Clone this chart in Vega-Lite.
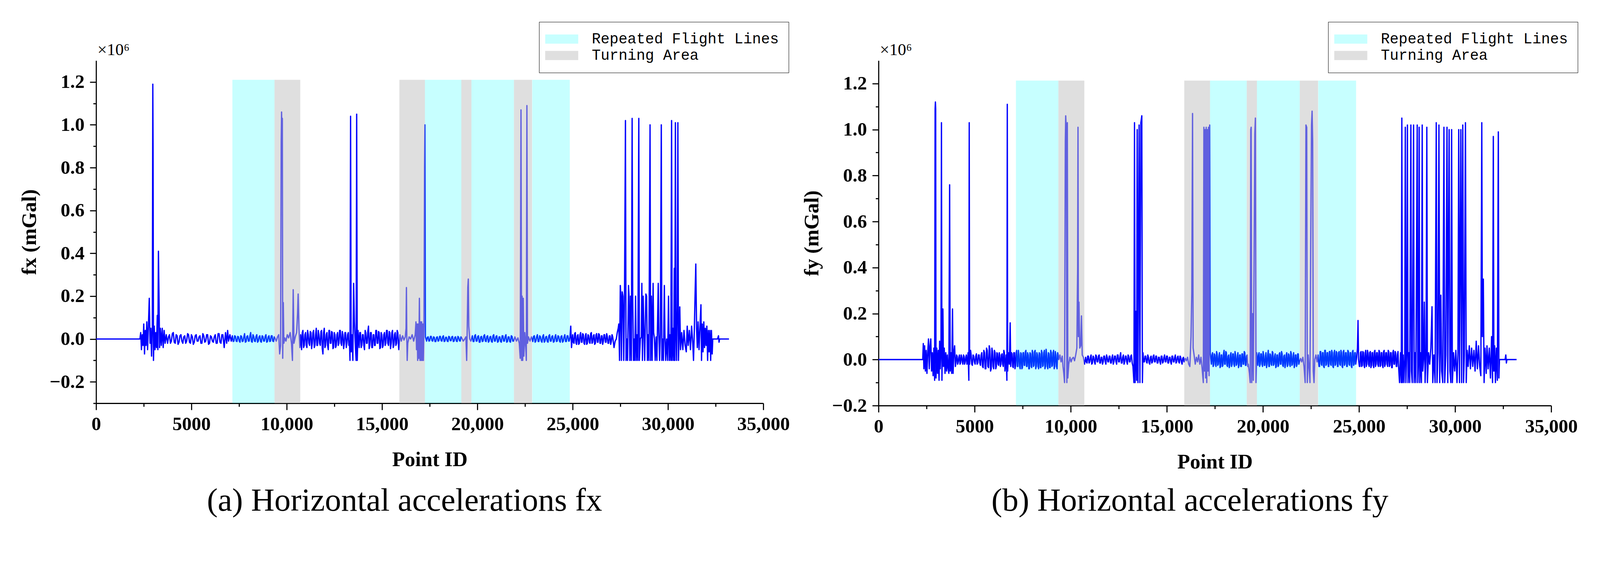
{
  "$schema": "https://vega.github.io/schema/vega-lite/v6.json",
  "background": "white",
  "padding": {"left": 49, "top": 55, "right": 0, "bottom": 0},
  "datasets": {
    "bands": [
      {"type": "Repeated Flight Lines", "start": 7150, "end": 9360},
      {"type": "Turning Area", "start": 9360, "end": 10710},
      {"type": "Turning Area", "start": 15910, "end": 17250},
      {"type": "Repeated Flight Lines", "start": 17250, "end": 19160},
      {"type": "Turning Area", "start": 19160, "end": 19690},
      {"type": "Repeated Flight Lines", "start": 19690, "end": 21920},
      {"type": "Turning Area", "start": 21920, "end": 22870},
      {"type": "Repeated Flight Lines", "start": 22880, "end": 24850}
    ],
    "fx": [
      {"p":0,"v":0},{"p":2300,"v":0},{"p":2340,"v":0.03},{"p":2380,"v":-0.05},{"p":2420,"v":0.02},{"p":2460,"v":-0.03},{"p":2500,"v":0.07},{"p":2540,"v":-0.07},{"p":2580,"v":0.04},{"p":2620,"v":-0.03},{"p":2660,"v":0.08},{"p":2700,"v":-0.05},{"p":2740,"v":0.05},{"p":2790,"v":0.19},{"p":2830,"v":-0.02},{"p":2870,"v":0.05},{"p":2910,"v":-0.08},{"p":2950,"v":0.06},{"p":2975,"v":1.19},{"p":2990,"v":0.9},{"p":3010,"v":-0.1},{"p":3050,"v":0.06},{"p":3090,"v":-0.05},{"p":3130,"v":0.03},{"p":3170,"v":-0.04},{"p":3210,"v":0.11},{"p":3240,"v":-0.05},{"p":3270,"v":0.41},{"p":3300,"v":0.2},{"p":3330,"v":-0.04},{"p":3370,"v":0.05},{"p":3420,"v":-0.03},{"p":3470,"v":0.05},{"p":3520,"v":-0.04},{"p":3570,"v":0.04},{"p":3620,"v":-0.02},{"p":3680,"v":0.02},
      {"p":3750,"v":-0.02},{"p":3850,"v":0.02},{"p":3950,"v":-0.01},{"p":4050,"v":0.03},{"p":4150,"v":-0.02},{"p":4250,"v":0.015},{"p":4350,"v":-0.015},{"p":4450,"v":0.02},{"p":4550,"v":-0.02},{"p":4650,"v":0.015},{"p":4750,"v":-0.01},{"p":4850,"v":0.02},{"p":4950,"v":-0.02},{"p":5050,"v":0.01},{"p":5150,"v":-0.015},{"p":5250,"v":0.02},{"p":5350,"v":-0.01},{"p":5450,"v":0.015},{"p":5550,"v":-0.02},{"p":5650,"v":0.015},{"p":5750,"v":-0.01},{"p":5850,"v":0.02},{"p":5950,"v":-0.02},{"p":6050,"v":0.01},{"p":6150,"v":-0.015},{"p":6250,"v":0.02},{"p":6350,"v":-0.02},{"p":6450,"v":0.025},{"p":6550,"v":-0.02},{"p":6650,"v":0.02},{"p":6720,"v":-0.04},{"p":6790,"v":0.03},{"p":6850,"v":-0.02},{"p":6900,"v":0.04},{"p":6950,"v":-0.01},{"p":7020,"v":0.02},{"p":7090,"v":-0.01},{"p":7150,"v":0.015},
      {"p":7230,"v":-0.01},{"p":7310,"v":0.012},{"p":7390,"v":-0.012},{"p":7470,"v":0.01},{"p":7550,"v":-0.015},{"p":7630,"v":0.012},{"p":7710,"v":-0.01},{"p":7790,"v":0.025},{"p":7870,"v":-0.012},{"p":7950,"v":0.015},{"p":8030,"v":-0.01},{"p":8110,"v":0.03},{"p":8190,"v":-0.015},{"p":8270,"v":0.012},{"p":8350,"v":-0.012},{"p":8430,"v":0.02},{"p":8510,"v":-0.01},{"p":8590,"v":0.015},{"p":8670,"v":-0.015},{"p":8750,"v":0.012},{"p":8830,"v":-0.01},{"p":8910,"v":0.02},{"p":8990,"v":-0.012},{"p":9070,"v":0.015},{"p":9150,"v":-0.01},{"p":9230,"v":0.015},{"p":9310,"v":-0.012},{"p":9380,"v":0.005},
      {"p":9450,"v":-0.01},{"p":9520,"v":0.01},{"p":9580,"v":0.02},{"p":9630,"v":-0.07},{"p":9680,"v":-0.03},{"p":9710,"v":0.92},{"p":9730,"v":1.06},{"p":9750,"v":0.94},{"p":9770,"v":1.03},{"p":9790,"v":-0.09},{"p":9820,"v":0.17},{"p":9850,"v":-0.02},{"p":9900,"v":0.005},{"p":9960,"v":-0.01},{"p":10030,"v":0.02},{"p":10100,"v":0.005},{"p":10180,"v":0.03},{"p":10250,"v":-0.02},{"p":10300,"v":-0.1},{"p":10340,"v":0.23},{"p":10380,"v":-0.02},{"p":10450,"v":0.01},{"p":10520,"v":0.03},{"p":10570,"v":0.12},{"p":10600,"v":0.21},{"p":10640,"v":0.05},{"p":10690,"v":-0.04},{"p":10730,"v":0.02},
      {"p":10780,"v":-0.05},{"p":10850,"v":0.04},{"p":10920,"v":-0.03},{"p":10990,"v":0.03},{"p":11060,"v":-0.04},{"p":11130,"v":0.02},{"p":11200,"v":-0.03},{"p":11270,"v":0.03},{"p":11340,"v":-0.02},{"p":11410,"v":0.04},{"p":11480,"v":-0.03},{"p":11550,"v":0.05},{"p":11620,"v":-0.03},{"p":11690,"v":0.02},{"p":11760,"v":-0.03},{"p":11830,"v":0.04},{"p":11900,"v":-0.07},{"p":11970,"v":0.05},{"p":12040,"v":-0.03},{"p":12110,"v":0.03},{"p":12180,"v":-0.05},{"p":12250,"v":0.04},{"p":12320,"v":-0.02},{"p":12390,"v":0.03},{"p":12460,"v":-0.04},{"p":12530,"v":0.02},{"p":12600,"v":-0.03},{"p":12670,"v":0.03},{"p":12740,"v":-0.02},{"p":12810,"v":0.04},{"p":12880,"v":-0.03},{"p":12950,"v":0.02},{"p":13020,"v":-0.02},{"p":13090,"v":0.03},{"p":13160,"v":-0.02},{"p":13230,"v":0.03},{"p":13290,"v":-0.01},
      {"p":13320,"v":-0.1},{"p":13350,"v":1.04},{"p":13380,"v":-0.06},{"p":13420,"v":0.02},{"p":13470,"v":-0.1},{"p":13510,"v":0.26},{"p":13550,"v":0.08},{"p":13600,"v":-0.03},{"p":13640,"v":-0.1},{"p":13670,"v":1.05},{"p":13700,"v":-0.1},{"p":13740,"v":0.04},
      {"p":13800,"v":-0.04},{"p":13870,"v":0.03},{"p":13940,"v":-0.03},{"p":14010,"v":0.02},{"p":14080,"v":-0.05},{"p":14150,"v":0.03},{"p":14220,"v":-0.02},{"p":14290,"v":0.06},{"p":14360,"v":-0.03},{"p":14430,"v":0.03},{"p":14500,"v":-0.04},{"p":14570,"v":0.02},{"p":14640,"v":-0.03},{"p":14710,"v":0.04},{"p":14780,"v":-0.02},{"p":14850,"v":0.03},{"p":14920,"v":-0.04},{"p":14990,"v":0.02},{"p":15060,"v":-0.03},{"p":15130,"v":0.03},{"p":15200,"v":-0.02},{"p":15270,"v":0.04},{"p":15340,"v":-0.03},{"p":15410,"v":0.03},{"p":15480,"v":-0.02},{"p":15550,"v":0.04},{"p":15620,"v":-0.03},{"p":15690,"v":0.03},{"p":15760,"v":-0.02},{"p":15830,"v":0.03},{"p":15880,"v":-0.05},
      {"p":15940,"v":0.02},{"p":16010,"v":-0.01},{"p":16080,"v":0.015},{"p":16150,"v":-0.005},{"p":16220,"v":0.01},{"p":16260,"v":0.05},{"p":16280,"v":0.24},{"p":16300,"v":0},{"p":16320,"v":-0.1},{"p":16350,"v":-0.02},{"p":16420,"v":0.01},{"p":16500,"v":0},{"p":16580,"v":0.02},{"p":16660,"v":-0.01},{"p":16740,"v":0.02},{"p":16780,"v":0.08},{"p":16810,"v":-0.05},{"p":16840,"v":0.07},{"p":16870,"v":-0.1},{"p":16900,"v":0.07},{"p":16930,"v":-0.09},{"p":16960,"v":0.19},{"p":16990,"v":-0.1},{"p":17020,"v":0.08},{"p":17050,"v":-0.1},{"p":17080,"v":0.08},{"p":17110,"v":-0.1},{"p":17140,"v":0.07},{"p":17170,"v":-0.1},{"p":17200,"v":0.06},{"p":17230,"v":0.8},{"p":17250,"v":1.0},{"p":17275,"v":0.01},
      {"p":17340,"v":-0.01},{"p":17420,"v":0.01},{"p":17500,"v":-0.008},{"p":17580,"v":0.012},{"p":17660,"v":-0.01},{"p":17740,"v":0.008},{"p":17820,"v":-0.012},{"p":17900,"v":0.01},{"p":17980,"v":-0.008},{"p":18060,"v":0.012},{"p":18140,"v":-0.01},{"p":18220,"v":0.015},{"p":18300,"v":-0.01},{"p":18380,"v":0.008},{"p":18460,"v":-0.012},{"p":18540,"v":0.01},{"p":18620,"v":-0.008},{"p":18700,"v":0.012},{"p":18780,"v":-0.01},{"p":18860,"v":0.01},{"p":18940,"v":-0.012},{"p":19020,"v":0.008},{"p":19100,"v":-0.01},{"p":19180,"v":0.005},{"p":19260,"v":-0.01},{"p":19340,"v":0},{"p":19400,"v":0.01},{"p":19440,"v":-0.1},{"p":19470,"v":0.05},{"p":19500,"v":0.24},{"p":19525,"v":0.28},{"p":19550,"v":0.06},{"p":19600,"v":0},{"p":19660,"v":-0.01},
      {"p":19740,"v":0.015},{"p":19820,"v":-0.012},{"p":19900,"v":0.02},{"p":19980,"v":-0.01},{"p":20060,"v":0.015},{"p":20140,"v":-0.015},{"p":20220,"v":0.012},{"p":20300,"v":-0.01},{"p":20380,"v":0.02},{"p":20460,"v":-0.012},{"p":20540,"v":0.015},{"p":20620,"v":-0.01},{"p":20700,"v":0.012},{"p":20780,"v":-0.015},{"p":20860,"v":0.02},{"p":20940,"v":-0.01},{"p":21020,"v":0.015},{"p":21100,"v":-0.012},{"p":21180,"v":0.01},{"p":21260,"v":-0.015},{"p":21340,"v":0.015},{"p":21420,"v":-0.01},{"p":21500,"v":0.02},{"p":21580,"v":-0.012},{"p":21660,"v":0.01},{"p":21740,"v":-0.015},{"p":21820,"v":0.012},{"p":21900,"v":-0.01},
      {"p":21970,"v":0.01},{"p":22050,"v":-0.01},{"p":22130,"v":0.005},{"p":22200,"v":-0.02},{"p":22250,"v":-0.09},{"p":22290,"v":1.07},{"p":22320,"v":-0.1},{"p":22350,"v":0.2},{"p":22380,"v":-0.1},{"p":22410,"v":0.19},{"p":22440,"v":-0.08},{"p":22490,"v":0.03},{"p":22540,"v":-0.04},{"p":22570,"v":-0.1},{"p":22600,"v":1.09},{"p":22630,"v":-0.02},{"p":22680,"v":0.01},{"p":22760,"v":-0.01},{"p":22840,"v":0.01},
      {"p":22910,"v":-0.012},{"p":22990,"v":0.015},{"p":23070,"v":-0.01},{"p":23150,"v":0.02},{"p":23230,"v":-0.012},{"p":23310,"v":0.01},{"p":23390,"v":-0.015},{"p":23470,"v":0.02},{"p":23550,"v":-0.01},{"p":23630,"v":0.012},{"p":23710,"v":-0.015},{"p":23790,"v":0.02},{"p":23870,"v":-0.01},{"p":23950,"v":0.015},{"p":24030,"v":-0.012},{"p":24110,"v":0.02},{"p":24190,"v":-0.01},{"p":24270,"v":0.012},{"p":24350,"v":-0.015},{"p":24430,"v":0.015},{"p":24510,"v":-0.01},{"p":24590,"v":0.02},{"p":24670,"v":-0.012},{"p":24750,"v":0.015},{"p":24820,"v":-0.01},{"p":24860,"v":0.01},{"p":24900,"v":0.06},{"p":24940,"v":-0.04},
      {"p":25000,"v":0.02},{"p":25070,"v":-0.02},{"p":25140,"v":0.03},{"p":25210,"v":-0.025},{"p":25280,"v":0.02},{"p":25350,"v":-0.02},{"p":25420,"v":0.03},{"p":25490,"v":-0.015},{"p":25560,"v":0.02},{"p":25630,"v":-0.025},{"p":25700,"v":0.025},{"p":25770,"v":-0.02},{"p":25840,"v":0.015},{"p":25910,"v":-0.02},{"p":25980,"v":0.03},{"p":26050,"v":-0.015},{"p":26120,"v":0.02},{"p":26190,"v":-0.02},{"p":26260,"v":0.025},{"p":26330,"v":-0.015},{"p":26400,"v":0.02},{"p":26470,"v":-0.02},{"p":26540,"v":0.015},{"p":26610,"v":-0.01},{"p":26680,"v":0.02},{"p":26750,"v":-0.015},{"p":26820,"v":0.01},{"p":26890,"v":-0.02},{"p":26960,"v":0.015},{"p":27030,"v":-0.01},{"p":27100,"v":0.01},{"p":27170,"v":-0.04},{"p":27230,"v":-0.01},{"p":27290,"v":0},{"p":27340,"v":0.03},{"p":27390,"v":0.05},{"p":27420,"v":0.07},
      {"p":27460,"v":-0.1},{"p":27500,"v":0.25},{"p":27530,"v":0.2},{"p":27560,"v":-0.1},{"p":27600,"v":0.22},{"p":27640,"v":0.2},{"p":27680,"v":-0.1},{"p":27720,"v":0.2},{"p":27770,"v":1.02},{"p":27800,"v":-0.1},{"p":27840,"v":0},{"p":27880,"v":-0.1},{"p":27930,"v":0.25},{"p":27960,"v":0.2},{"p":28000,"v":-0.1},{"p":28040,"v":0.2},{"p":28080,"v":-0.1},{"p":28120,"v":1.03},{"p":28150,"v":0.2},{"p":28190,"v":-0.1},{"p":28230,"v":0},{"p":28260,"v":-0.1},{"p":28300,"v":0.2},{"p":28340,"v":-0.1},{"p":28380,"v":0.02},{"p":28420,"v":-0.1},{"p":28470,"v":1.03},{"p":28500,"v":-0.1},{"p":28550,"v":0},{"p":28600,"v":0.01},{"p":28630,"v":0.26},{"p":28660,"v":-0.1},{"p":28700,"v":0.2},{"p":28740,"v":0.03},{"p":28780,"v":-0.1},{"p":28840,"v":0.21},{"p":28880,"v":0.2},{"p":28920,"v":-0.1},{"p":28960,"v":0.02},{"p":29000,"v":-0.1},{"p":29060,"v":1.0},{"p":29090,"v":-0.1},{"p":29130,"v":0.2},{"p":29170,"v":-0.1},{"p":29220,"v":0.26},{"p":29250,"v":0.03},{"p":29290,"v":0},{"p":29330,"v":-0.1},{"p":29380,"v":0.01},{"p":29420,"v":-0.1},{"p":29490,"v":0.26},{"p":29520,"v":0.03},{"p":29560,"v":-0.1},{"p":29600,"v":0.02},{"p":29650,"v":1.0},{"p":29680,"v":-0.1},{"p":29720,"v":0},{"p":29760,"v":-0.1},{"p":29810,"v":0.25},{"p":29840,"v":0.02},{"p":29880,"v":-0.1},{"p":29930,"v":0},{"p":29980,"v":-0.1},{"p":30030,"v":0.2},{"p":30070,"v":-0.1},{"p":30110,"v":0.02},{"p":30150,"v":-0.1},{"p":30190,"v":1.02},{"p":30220,"v":-0.1},{"p":30260,"v":0.05},{"p":30300,"v":-0.1},{"p":30330,"v":0.33},{"p":30360,"v":-0.1},{"p":30390,"v":1.01},{"p":30420,"v":0.05},{"p":30450,"v":-0.1},{"p":30490,"v":0.15},{"p":30520,"v":1.01},{"p":30550,"v":-0.1},{"p":30590,"v":0.03},{"p":30620,"v":0.15},
      {"p":30660,"v":-0.05},{"p":30720,"v":0.03},{"p":30780,"v":-0.05},{"p":30840,"v":0.04},{"p":30900,"v":-0.03},{"p":30960,"v":-0.06},{"p":31010,"v":0.06},{"p":31060,"v":-0.03},{"p":31120,"v":0.04},{"p":31180,"v":-0.05},{"p":31240,"v":0.06},{"p":31300,"v":-0.02},{"p":31340,"v":-0.1},{"p":31380,"v":0.03},{"p":31420,"v":0.2},{"p":31460,"v":0.35},{"p":31500,"v":0.05},{"p":31540,"v":-0.04},{"p":31580,"v":0.08},{"p":31630,"v":-0.05},{"p":31680,"v":0.06},{"p":31730,"v":0.16},{"p":31760,"v":-0.1},{"p":31800,"v":0.07},{"p":31840,"v":-0.06},{"p":31880,"v":0.08},{"p":31920,"v":-0.04},{"p":31960,"v":0.05},{"p":32000,"v":-0.03},{"p":32040,"v":0.06},{"p":32080,"v":-0.1},{"p":32120,"v":0.04},{"p":32160,"v":-0.06},{"p":32200,"v":0.04},{"p":32240,"v":-0.1},{"p":32280,"v":0.04},{"p":32320,"v":-0.07},{"p":32350,"v":0},{"p":32600,"v":0},{"p":32650,"v":0.015},{"p":32680,"v":-0.015},{"p":32710,"v":0},{"p":33200,"v":0},
      {"p":3800,"v":0.01},{"p":3900,"v":-0.02},{"p":4000,"v":0.025},{"p":4100,"v":-0.015},{"p":4200,"v":0.02},{"p":4300,"v":-0.025},{"p":4400,"v":0.015},{"p":4500,"v":-0.01},{"p":4600,"v":0.01},{"p":4700,"v":-0.02},{"p":4800,"v":0.025},{"p":4900,"v":-0.015},{"p":5000,"v":0.02},{"p":5100,"v":-0.025},{"p":5200,"v":0.015},{"p":5300,"v":-0.01},{"p":5400,"v":0.01},{"p":5500,"v":-0.02},{"p":5600,"v":0.025},{"p":5700,"v":-0.015},{"p":5800,"v":0.02},{"p":5900,"v":-0.025},{"p":6000,"v":0.015},{"p":6100,"v":-0.01},{"p":6200,"v":0.01},{"p":6300,"v":-0.02},{"p":6400,"v":0.025},{"p":6500,"v":-0.015},{"p":6600,"v":0.02},
      {"p":7190,"v":-0.012},{"p":7270,"v":0.015},{"p":7350,"v":-0.01},{"p":7430,"v":0.012},{"p":7510,"v":-0.01},{"p":7590,"v":0.015},{"p":7670,"v":-0.012},{"p":7750,"v":0.01},{"p":7830,"v":-0.015},{"p":7910,"v":0.012},{"p":7990,"v":-0.01},{"p":8070,"v":0.015},{"p":8150,"v":-0.012},{"p":8230,"v":0.02},{"p":8310,"v":-0.01},{"p":8390,"v":0.012},{"p":8470,"v":-0.015},{"p":8550,"v":0.01},{"p":8630,"v":-0.012},{"p":8710,"v":0.015},{"p":8790,"v":-0.01},{"p":8870,"v":0.012},{"p":8950,"v":-0.015},{"p":9030,"v":0.01},{"p":9110,"v":-0.012},{"p":9190,"v":0.015},{"p":9270,"v":-0.01},{"p":9345,"v":0.01},
      {"p":10815,"v":0.03},{"p":10885,"v":-0.04},{"p":10955,"v":0.02},{"p":11025,"v":-0.03},{"p":11095,"v":0.04},{"p":11165,"v":-0.02},{"p":11235,"v":0.035},{"p":11305,"v":-0.045},{"p":11375,"v":0.03},{"p":11445,"v":-0.04},{"p":11515,"v":0.02},{"p":11585,"v":-0.03},{"p":11655,"v":0.04},{"p":11725,"v":-0.02},{"p":11795,"v":0.035},{"p":11865,"v":-0.045},{"p":11935,"v":0.03},{"p":12005,"v":-0.04},{"p":12075,"v":0.02},{"p":12145,"v":-0.03},{"p":12215,"v":0.04},{"p":12285,"v":-0.02},{"p":12355,"v":0.035},{"p":12425,"v":-0.045},{"p":12495,"v":0.03},{"p":12565,"v":-0.04},{"p":12635,"v":0.02},{"p":12705,"v":-0.03},{"p":12775,"v":0.04},{"p":12845,"v":-0.02},{"p":12915,"v":0.035},{"p":12985,"v":-0.045},{"p":13055,"v":0.03},{"p":13125,"v":-0.04},{"p":13195,"v":0.02},{"p":13260,"v":-0.03},
      {"p":13835,"v":0.03},{"p":13905,"v":-0.04},{"p":13975,"v":0.02},{"p":14045,"v":-0.03},{"p":14115,"v":0.04},{"p":14185,"v":-0.02},{"p":14255,"v":0.035},{"p":14325,"v":-0.045},{"p":14395,"v":0.03},{"p":14465,"v":-0.04},{"p":14535,"v":0.02},{"p":14605,"v":-0.03},{"p":14675,"v":0.04},{"p":14745,"v":-0.02},{"p":14815,"v":0.035},{"p":14885,"v":-0.045},{"p":14955,"v":0.03},{"p":15025,"v":-0.04},{"p":15095,"v":0.02},{"p":15165,"v":-0.03},{"p":15235,"v":0.04},{"p":15305,"v":-0.02},{"p":15375,"v":0.035},{"p":15445,"v":-0.045},{"p":15515,"v":0.03},{"p":15585,"v":-0.04},{"p":15655,"v":0.02},{"p":15725,"v":-0.03},{"p":15795,"v":0.04},{"p":15855,"v":-0.02},
      {"p":17380,"v":0.008},{"p":17460,"v":-0.01},{"p":17540,"v":0.012},{"p":17620,"v":-0.008},{"p":17700,"v":0.01},{"p":17780,"v":-0.012},{"p":17860,"v":0.008},{"p":17940,"v":-0.01},{"p":18020,"v":0.012},{"p":18100,"v":-0.008},{"p":18180,"v":0.01},{"p":18260,"v":-0.012},{"p":18340,"v":0.008},{"p":18420,"v":-0.01},{"p":18500,"v":0.012},{"p":18580,"v":-0.008},{"p":18660,"v":0.01},{"p":18740,"v":-0.012},{"p":18820,"v":0.008},{"p":18900,"v":-0.01},{"p":18980,"v":0.012},{"p":19060,"v":-0.008},{"p":19140,"v":0.01},
      {"p":19780,"v":-0.012},{"p":19860,"v":0.015},{"p":19940,"v":-0.01},{"p":20020,"v":0.012},{"p":20100,"v":-0.015},{"p":20180,"v":0.01},{"p":20260,"v":-0.012},{"p":20340,"v":0.015},{"p":20420,"v":-0.01},{"p":20500,"v":0.012},{"p":20580,"v":-0.015},{"p":20660,"v":0.01},{"p":20740,"v":-0.012},{"p":20820,"v":0.015},{"p":20900,"v":-0.01},{"p":20980,"v":0.012},{"p":21060,"v":-0.015},{"p":21140,"v":0.01},{"p":21220,"v":-0.012},{"p":21300,"v":0.015},{"p":21380,"v":-0.01},{"p":21460,"v":0.012},{"p":21540,"v":-0.015},{"p":21620,"v":0.01},{"p":21700,"v":-0.012},{"p":21780,"v":0.015},{"p":21860,"v":-0.01},
      {"p":22950,"v":0.012},{"p":23030,"v":-0.015},{"p":23110,"v":0.01},{"p":23190,"v":-0.012},{"p":23270,"v":0.015},{"p":23350,"v":-0.01},{"p":23430,"v":0.012},{"p":23510,"v":-0.015},{"p":23590,"v":0.01},{"p":23670,"v":-0.012},{"p":23750,"v":0.015},{"p":23830,"v":-0.01},{"p":23910,"v":0.012},{"p":23990,"v":-0.015},{"p":24070,"v":0.01},{"p":24150,"v":-0.012},{"p":24230,"v":0.015},{"p":24310,"v":-0.01},{"p":24390,"v":0.012},{"p":24470,"v":-0.015},{"p":24550,"v":0.01},{"p":24630,"v":-0.012},{"p":24710,"v":0.015},{"p":24790,"v":-0.01},
      {"p":25035,"v":-0.015},{"p":25105,"v":0.025},{"p":25175,"v":-0.02},{"p":25245,"v":0.015},{"p":25315,"v":-0.025},{"p":25385,"v":0.02},{"p":25455,"v":-0.015},{"p":25525,"v":0.025},{"p":25595,"v":-0.02},{"p":25665,"v":0.015},{"p":25735,"v":-0.025},{"p":25805,"v":0.02},{"p":25875,"v":-0.015},{"p":25945,"v":0.025},{"p":26015,"v":-0.02},{"p":26085,"v":0.015},{"p":26155,"v":-0.025},{"p":26225,"v":0.02},{"p":26295,"v":-0.015},{"p":26365,"v":0.025},{"p":26435,"v":-0.02},{"p":26505,"v":0.015},{"p":26575,"v":-0.025},{"p":26645,"v":0.02},{"p":26715,"v":-0.015},{"p":26785,"v":0.025},{"p":26855,"v":-0.02},{"p":26925,"v":0.015},{"p":26995,"v":-0.025},{"p":27065,"v":0.02}
    ],
    "fy": [
      {"p":0,"v":0},{"p":2300,"v":0},{"p":2330,"v":0.07},{"p":2360,"v":-0.04},{"p":2400,"v":0.06},{"p":2440,"v":-0.05},{"p":2480,"v":0.04},{"p":2520,"v":-0.06},{"p":2560,"v":0.03},{"p":2600,"v":0.09},{"p":2640,"v":-0.04},{"p":2680,"v":0.06},{"p":2720,"v":0.09},{"p":2760,"v":-0.05},{"p":2800,"v":0.03},{"p":2840,"v":-0.07},{"p":2880,"v":0.05},{"p":2920,"v":-0.09},{"p":2945,"v":1.09},{"p":2960,"v":1.12},{"p":2975,"v":1.09},{"p":2990,"v":-0.08},{"p":3030,"v":0.05},{"p":3070,"v":-0.06},{"p":3110,"v":0.04},{"p":3150,"v":-0.09},{"p":3180,"v":0.08},{"p":3210,"v":-0.04},{"p":3250,"v":0.05},{"p":3275,"v":1.03},{"p":3300,"v":-0.09},{"p":3350,"v":0.22},{"p":3380,"v":-0.03},{"p":3420,"v":0.05},{"p":3460,"v":-0.06},{"p":3500,"v":0.03},{"p":3540,"v":-0.05},{"p":3580,"v":0.02},{"p":3620,"v":-0.04},{"p":3660,"v":-0.06},{"p":3700,"v":0.76},{"p":3730,"v":-0.05},{"p":3770,"v":0.03},{"p":3810,"v":-0.06},{"p":3850,"v":0.22},{"p":3880,"v":-0.06},{"p":3920,"v":0.03},{"p":3960,"v":0.06},{"p":4000,"v":-0.03},
      {"p":4060,"v":0.02},{"p":4120,"v":-0.02},{"p":4180,"v":0.01},{"p":4240,"v":-0.02},{"p":4300,"v":0.02},{"p":4360,"v":-0.01},{"p":4420,"v":0.02},{"p":4480,"v":-0.02},{"p":4540,"v":0.01},{"p":4600,"v":-0.02},{"p":4660,"v":0.03},{"p":4700,"v":-0.09},{"p":4720,"v":1.03},{"p":4740,"v":-0.02},{"p":4790,"v":0.04},{"p":4850,"v":-0.02},{"p":4920,"v":0.02},{"p":4990,"v":-0.01},{"p":5060,"v":0.015},{"p":5130,"v":-0.02},{"p":5200,"v":0.02},{"p":5270,"v":-0.015},{"p":5340,"v":0.02},{"p":5410,"v":-0.03},{"p":5480,"v":0.04},{"p":5550,"v":-0.04},{"p":5620,"v":0.05},{"p":5690,"v":-0.03},{"p":5760,"v":0.06},{"p":5830,"v":-0.05},{"p":5900,"v":0.05},{"p":5960,"v":-0.03},{"p":6030,"v":0.04},{"p":6100,"v":-0.04},{"p":6160,"v":0.03},{"p":6220,"v":-0.02},{"p":6280,"v":0.03},{"p":6340,"v":-0.03},{"p":6400,"v":0.02},{"p":6460,"v":-0.02},{"p":6520,"v":0.04},{"p":6580,"v":-0.05},{"p":6640,"v":0.02},{"p":6680,"v":-0.09},{"p":6700,"v":1.11},{"p":6720,"v":-0.05},{"p":6760,"v":0.03},{"p":6810,"v":-0.02},{"p":6850,"v":0.16},{"p":6880,"v":-0.03},{"p":6920,"v":0.03},
      {"p":6980,"v":-0.03},{"p":7040,"v":0.03},{"p":7100,"v":-0.04},{"p":7160,"v":0.03},{"p":7220,"v":-0.03},{"p":7280,"v":0.04},{"p":7340,"v":-0.03},{"p":7400,"v":0.03},{"p":7460,"v":-0.04},{"p":7520,"v":0.03},{"p":7580,"v":-0.025},{"p":7640,"v":0.035},{"p":7700,"v":-0.03},{"p":7760,"v":0.03},{"p":7820,"v":-0.04},{"p":7880,"v":0.03},{"p":7940,"v":-0.03},{"p":8000,"v":0.04},{"p":8060,"v":-0.03},{"p":8120,"v":0.035},{"p":8180,"v":-0.04},{"p":8240,"v":0.03},{"p":8300,"v":-0.03},{"p":8360,"v":0.03},{"p":8420,"v":-0.035},{"p":8480,"v":0.04},{"p":8540,"v":-0.03},{"p":8600,"v":0.03},{"p":8660,"v":-0.04},{"p":8720,"v":0.045},{"p":8780,"v":-0.03},{"p":8840,"v":0.03},{"p":8900,"v":-0.035},{"p":8960,"v":0.04},{"p":9020,"v":-0.03},{"p":9080,"v":0.03},{"p":9140,"v":-0.04},{"p":9200,"v":0.035},{"p":9260,"v":-0.03},{"p":9320,"v":0.03},
      {"p":9380,"v":0},{"p":9440,"v":0.02},{"p":9500,"v":-0.01},{"p":9560,"v":0.015},{"p":9600,"v":-0.03},{"p":9640,"v":-0.06},{"p":9680,"v":-0.1},{"p":9720,"v":0.95},{"p":9740,"v":1.06},{"p":9770,"v":1.0},{"p":9800,"v":-0.1},{"p":9825,"v":1.03},{"p":9850,"v":-0.08},{"p":9900,"v":-0.02},{"p":9960,"v":0.01},{"p":10020,"v":-0.01},{"p":10080,"v":0.005},{"p":10140,"v":0.01},{"p":10200,"v":-0.005},{"p":10260,"v":0.02},{"p":10320,"v":0.05},{"p":10360,"v":0.4},{"p":10380,"v":1.01},{"p":10400,"v":0.1},{"p":10430,"v":0.25},{"p":10470,"v":0.05},{"p":10520,"v":0.06},{"p":10560,"v":0.19},{"p":10600,"v":0.02},{"p":10660,"v":0.01},{"p":10720,"v":-0.02},
      {"p":10780,"v":0.01},{"p":10850,"v":-0.015},{"p":10920,"v":0.015},{"p":10990,"v":-0.01},{"p":11060,"v":0.02},{"p":11130,"v":-0.015},{"p":11200,"v":0.01},{"p":11270,"v":-0.02},{"p":11340,"v":0.015},{"p":11410,"v":-0.01},{"p":11480,"v":0.02},{"p":11550,"v":-0.015},{"p":11620,"v":0.01},{"p":11690,"v":-0.01},{"p":11760,"v":0.015},{"p":11830,"v":-0.02},{"p":11900,"v":0.01},{"p":11970,"v":-0.01},{"p":12040,"v":0.015},{"p":12110,"v":-0.015},{"p":12180,"v":0.02},{"p":12250,"v":-0.01},{"p":12320,"v":0.015},{"p":12390,"v":-0.02},{"p":12460,"v":0.02},{"p":12530,"v":-0.01},{"p":12600,"v":0.03},{"p":12670,"v":-0.015},{"p":12740,"v":0.02},{"p":12810,"v":-0.01},{"p":12880,"v":0.015},{"p":12950,"v":-0.02},{"p":13020,"v":0.015},{"p":13090,"v":-0.01},{"p":13160,"v":0.02},{"p":13240,"v":-0.03},
      {"p":13290,"v":-0.1},{"p":13320,"v":1.03},{"p":13350,"v":-0.1},{"p":13400,"v":0.21},{"p":13430,"v":-0.09},{"p":13460,"v":1.0},{"p":13500,"v":-0.1},{"p":13560,"v":1.02},{"p":13600,"v":-0.1},{"p":13650,"v":1.03},{"p":13700,"v":1.06},{"p":13730,"v":-0.1},{"p":13760,"v":0.03},{"p":13800,"v":-0.01},
      {"p":13870,"v":0.015},{"p":13940,"v":-0.01},{"p":14010,"v":0.02},{"p":14080,"v":-0.015},{"p":14150,"v":0.01},{"p":14220,"v":-0.015},{"p":14290,"v":0.015},{"p":14360,"v":-0.01},{"p":14430,"v":0.015},{"p":14500,"v":-0.015},{"p":14570,"v":0.01},{"p":14640,"v":-0.01},{"p":14710,"v":0.015},{"p":14780,"v":-0.015},{"p":14850,"v":0.01},{"p":14920,"v":-0.01},{"p":14990,"v":0.015},{"p":15060,"v":-0.015},{"p":15130,"v":0.01},{"p":15200,"v":-0.01},{"p":15270,"v":0.015},{"p":15340,"v":-0.01},{"p":15410,"v":0.01},{"p":15480,"v":-0.015},{"p":15550,"v":0.01},{"p":15620,"v":-0.01},{"p":15690,"v":0.015},{"p":15760,"v":-0.01},{"p":15830,"v":0.005},{"p":15900,"v":-0.01},
      {"p":15960,"v":0.005},{"p":16020,"v":-0.005},{"p":16080,"v":0.01},{"p":16140,"v":-0.02},{"p":16200,"v":-0.03},{"p":16260,"v":0.1},{"p":16300,"v":0.29},{"p":16340,"v":1.07},{"p":16370,"v":0.05},{"p":16420,"v":0.02},{"p":16480,"v":-0.02},{"p":16540,"v":0.01},{"p":16600,"v":-0.01},{"p":16660,"v":0.02},{"p":16720,"v":-0.02},{"p":16780,"v":0.01},{"p":16840,"v":-0.04},{"p":16900,"v":-0.1},{"p":16930,"v":1.01},{"p":16960,"v":-0.05},{"p":16990,"v":1.0},{"p":17020,"v":-0.08},{"p":17050,"v":1.01},{"p":17080,"v":-0.1},{"p":17110,"v":1.0},{"p":17140,"v":-0.05},{"p":17170,"v":1.01},{"p":17200,"v":-0.07},{"p":17230,"v":1.02},{"p":17260,"v":0.03},
      {"p":17320,"v":-0.02},{"p":17380,"v":0.03},{"p":17440,"v":-0.025},{"p":17500,"v":0.02},{"p":17560,"v":-0.03},{"p":17620,"v":0.025},{"p":17680,"v":-0.02},{"p":17740,"v":0.03},{"p":17800,"v":-0.03},{"p":17860,"v":0.02},{"p":17920,"v":-0.025},{"p":17980,"v":0.04},{"p":18040,"v":-0.02},{"p":18100,"v":0.03},{"p":18160,"v":-0.03},{"p":18220,"v":0.02},{"p":18280,"v":-0.025},{"p":18340,"v":0.03},{"p":18400,"v":-0.02},{"p":18460,"v":0.025},{"p":18520,"v":-0.03},{"p":18580,"v":0.02},{"p":18640,"v":-0.02},{"p":18700,"v":0.03},{"p":18760,"v":-0.025},{"p":18820,"v":0.02},{"p":18880,"v":-0.03},{"p":18940,"v":0.025},{"p":19000,"v":-0.02},{"p":19060,"v":0.03},{"p":19120,"v":-0.025},{"p":19180,"v":0.02},{"p":19240,"v":-0.02},{"p":19300,"v":-0.06},{"p":19340,"v":-0.1},{"p":19370,"v":1.0},{"p":19390,"v":1.01},{"p":19420,"v":-0.1},{"p":19460,"v":0.2},{"p":19500,"v":-0.09},{"p":19540,"v":0.4},{"p":19580,"v":0.98},{"p":19610,"v":1.05},{"p":19640,"v":-0.1},{"p":19680,"v":0.03},
      {"p":19740,"v":-0.025},{"p":19800,"v":0.03},{"p":19860,"v":-0.02},{"p":19920,"v":0.025},{"p":19980,"v":-0.03},{"p":20040,"v":0.02},{"p":20100,"v":-0.025},{"p":20160,"v":0.03},{"p":20220,"v":-0.02},{"p":20280,"v":0.04},{"p":20340,"v":-0.03},{"p":20400,"v":0.02},{"p":20460,"v":-0.025},{"p":20520,"v":0.03},{"p":20580,"v":-0.02},{"p":20640,"v":0.025},{"p":20700,"v":-0.03},{"p":20760,"v":0.02},{"p":20820,"v":-0.025},{"p":20880,"v":0.03},{"p":20940,"v":-0.02},{"p":21000,"v":0.025},{"p":21060,"v":-0.03},{"p":21120,"v":0.02},{"p":21180,"v":-0.02},{"p":21240,"v":0.03},{"p":21300,"v":-0.025},{"p":21360,"v":0.02},{"p":21420,"v":-0.03},{"p":21480,"v":0.025},{"p":21540,"v":-0.02},{"p":21600,"v":0.03},{"p":21660,"v":-0.025},{"p":21720,"v":0.02},{"p":21780,"v":-0.02},{"p":21840,"v":0.025},{"p":21900,"v":-0.01},
      {"p":21960,"v":0.005},{"p":22020,"v":-0.01},{"p":22080,"v":0.01},{"p":22140,"v":-0.03},{"p":22200,"v":-0.1},{"p":22240,"v":1.02},{"p":22280,"v":1.01},{"p":22310,"v":-0.1},{"p":22360,"v":0.02},{"p":22400,"v":-0.03},{"p":22450,"v":-0.1},{"p":22490,"v":0.5},{"p":22530,"v":1.02},{"p":22560,"v":1.08},{"p":22590,"v":0.95},{"p":22620,"v":-0.05},{"p":22660,"v":-0.1},{"p":22700,"v":0},{"p":22760,"v":0.02},{"p":22820,"v":-0.01},{"p":22870,"v":0.02},
      {"p":22920,"v":-0.03},{"p":22980,"v":0.035},{"p":23040,"v":-0.02},{"p":23100,"v":0.03},{"p":23160,"v":-0.03},{"p":23220,"v":0.04},{"p":23280,"v":-0.025},{"p":23340,"v":0.03},{"p":23400,"v":-0.03},{"p":23460,"v":0.035},{"p":23520,"v":-0.02},{"p":23580,"v":0.04},{"p":23640,"v":-0.03},{"p":23700,"v":0.03},{"p":23760,"v":-0.025},{"p":23820,"v":0.035},{"p":23880,"v":-0.03},{"p":23940,"v":0.03},{"p":24000,"v":-0.02},{"p":24060,"v":0.04},{"p":24120,"v":-0.03},{"p":24180,"v":0.035},{"p":24240,"v":-0.025},{"p":24300,"v":0.03},{"p":24360,"v":-0.03},{"p":24420,"v":0.04},{"p":24480,"v":-0.02},{"p":24540,"v":0.03},{"p":24600,"v":-0.03},{"p":24660,"v":0.035},{"p":24720,"v":-0.025},{"p":24780,"v":0.03},{"p":24830,"v":-0.02},{"p":24880,"v":0.01},{"p":24920,"v":0.05},{"p":24950,"v":0.17},{"p":24980,"v":0},{"p":25020,"v":-0.03},
      {"p":25080,"v":0.03},{"p":25140,"v":-0.03},{"p":25200,"v":0.035},{"p":25260,"v":-0.025},{"p":25320,"v":0.03},{"p":25380,"v":-0.03},{"p":25440,"v":0.04},{"p":25500,"v":-0.02},{"p":25560,"v":0.03},{"p":25620,"v":-0.035},{"p":25680,"v":0.03},{"p":25740,"v":-0.025},{"p":25800,"v":0.035},{"p":25860,"v":-0.03},{"p":25920,"v":0.03},{"p":25980,"v":-0.02},{"p":26040,"v":0.04},{"p":26100,"v":-0.03},{"p":26160,"v":0.03},{"p":26220,"v":-0.025},{"p":26280,"v":0.035},{"p":26340,"v":-0.03},{"p":26400,"v":0.03},{"p":26460,"v":-0.02},{"p":26520,"v":0.04},{"p":26580,"v":-0.03},{"p":26640,"v":0.03},{"p":26700,"v":-0.035},{"p":26760,"v":0.03},{"p":26820,"v":-0.02},{"p":26880,"v":0.035},{"p":26940,"v":-0.03},{"p":27000,"v":0.02},{"p":27060,"v":-0.03},
      {"p":27110,"v":-0.1},{"p":27160,"v":0.03},{"p":27200,"v":-0.1},{"p":27230,"v":1.05},{"p":27260,"v":-0.1},{"p":27300,"v":0.02},{"p":27340,"v":-0.1},{"p":27380,"v":0},{"p":27410,"v":1.01},{"p":27440,"v":-0.1},{"p":27480,"v":0.02},{"p":27520,"v":1.02},{"p":27550,"v":-0.1},{"p":27600,"v":0.03},{"p":27640,"v":-0.1},{"p":27700,"v":1.02},{"p":27730,"v":-0.05},{"p":27770,"v":-0.1},{"p":27840,"v":1.02},{"p":27870,"v":-0.1},{"p":27920,"v":0.03},{"p":27960,"v":-0.1},{"p":28030,"v":1.02},{"p":28060,"v":-0.1},{"p":28100,"v":0},{"p":28130,"v":1.01},{"p":28160,"v":-0.1},{"p":28210,"v":0.03},{"p":28250,"v":-0.1},{"p":28290,"v":1.02},{"p":28320,"v":-0.05},{"p":28360,"v":0},{"p":28400,"v":0.25},{"p":28440,"v":-0.1},{"p":28490,"v":0.02},{"p":28530,"v":1.01},{"p":28560,"v":-0.1},{"p":28620,"v":0.03},{"p":28680,"v":-0.02},{"p":28740,"v":0.05},{"p":28800,"v":0.23},{"p":28840,"v":-0.1},{"p":28900,"v":0.02},{"p":28960,"v":-0.1},{"p":29020,"v":1.03},{"p":29060,"v":-0.1},{"p":29110,"v":0.03},{"p":29160,"v":1.02},{"p":29200,"v":-0.1},{"p":29260,"v":0.28},{"p":29300,"v":-0.05},{"p":29360,"v":-0.1},{"p":29420,"v":1.01},{"p":29460,"v":-0.1},{"p":29520,"v":0.02},{"p":29580,"v":1.01},{"p":29620,"v":-0.1},{"p":29690,"v":1.0},{"p":29730,"v":-0.05},{"p":29780,"v":-0.1},{"p":29820,"v":1.0},{"p":29860,"v":-0.1},{"p":29920,"v":0.03},{"p":29980,"v":-0.05},{"p":30040,"v":0.04},{"p":30100,"v":-0.1},{"p":30150,"v":0.03},{"p":30190,"v":1.0},{"p":30230,"v":-0.1},{"p":30300,"v":1.0},{"p":30340,"v":-0.1},{"p":30400,"v":1.02},{"p":30440,"v":-0.1},{"p":30480,"v":0.02},{"p":30540,"v":1.03},{"p":30580,"v":-0.1},
      {"p":30630,"v":0.04},{"p":30680,"v":-0.03},{"p":30740,"v":0.06},{"p":30800,"v":-0.04},{"p":30860,"v":0.05},{"p":30920,"v":-0.03},{"p":30980,"v":0.04},{"p":31040,"v":-0.05},{"p":31100,"v":0.08},{"p":31160,"v":-0.04},{"p":31220,"v":0.06},{"p":31280,"v":-0.03},{"p":31340,"v":-0.07},{"p":31390,"v":1.03},{"p":31420,"v":0.1},{"p":31470,"v":0.35},{"p":31510,"v":-0.1},{"p":31560,"v":0.05},{"p":31620,"v":-0.06},{"p":31660,"v":0.06},{"p":31720,"v":-0.04},{"p":31780,"v":0.05},{"p":31840,"v":-0.08},{"p":31900,"v":0.1},{"p":31950,"v":-0.1},{"p":31990,"v":0.97},{"p":32020,"v":-0.05},{"p":32060,"v":0.06},{"p":32100,"v":-0.1},{"p":32150,"v":0.05},{"p":32200,"v":-0.09},{"p":32250,"v":0.99},{"p":32280,"v":-0.08},{"p":32310,"v":0},{"p":32600,"v":0},{"p":32640,"v":0.02},{"p":32670,"v":-0.015},{"p":32700,"v":0},{"p":33200,"v":0},
      {"p":4030,"v":-0.015},{"p":4090,"v":0.015},{"p":4150,"v":-0.01},{"p":4210,"v":0.02},{"p":4270,"v":-0.015},{"p":4330,"v":0.01},{"p":4390,"v":-0.02},{"p":4450,"v":0.015},{"p":4510,"v":-0.01},{"p":4570,"v":0.02},{"p":4630,"v":-0.015},
      {"p":4820,"v":0.02},{"p":4885,"v":-0.025},{"p":4955,"v":0.015},{"p":5025,"v":-0.02},{"p":5095,"v":0.025},{"p":5165,"v":-0.015},{"p":5235,"v":0.02},{"p":5305,"v":-0.025},{"p":5375,"v":0.03},{"p":5445,"v":-0.035},{"p":5515,"v":0.03},{"p":5585,"v":-0.04},{"p":5655,"v":0.04},{"p":5725,"v":-0.035},{"p":5795,"v":0.045},{"p":5865,"v":-0.04},{"p":5930,"v":0.035},{"p":5995,"v":-0.04},{"p":6065,"v":0.03},{"p":6130,"v":-0.03},{"p":6190,"v":0.025},{"p":6250,"v":-0.025},{"p":6310,"v":0.02},{"p":6370,"v":-0.02},{"p":6430,"v":0.025},{"p":6490,"v":-0.03},{"p":6550,"v":0.03},{"p":6610,"v":-0.02},
      {"p":6950,"v":0.025},{"p":7010,"v":-0.035},{"p":7070,"v":0.03},{"p":7130,"v":-0.025},{"p":7190,"v":0.04},{"p":7250,"v":-0.03},{"p":7310,"v":0.02},{"p":7370,"v":-0.04},{"p":7430,"v":0.025},{"p":7490,"v":-0.035},{"p":7550,"v":0.03},{"p":7610,"v":-0.025},{"p":7670,"v":0.04},{"p":7730,"v":-0.03},{"p":7790,"v":0.02},{"p":7850,"v":-0.04},{"p":7910,"v":0.025},{"p":7970,"v":-0.035},{"p":8030,"v":0.03},{"p":8090,"v":-0.025},{"p":8150,"v":0.04},{"p":8210,"v":-0.03},{"p":8270,"v":0.02},{"p":8330,"v":-0.04},{"p":8390,"v":0.025},{"p":8450,"v":-0.035},{"p":8510,"v":0.03},{"p":8570,"v":-0.025},{"p":8630,"v":0.04},{"p":8690,"v":-0.03},{"p":8750,"v":0.02},{"p":8810,"v":-0.04},{"p":8870,"v":0.025},{"p":8930,"v":-0.035},{"p":8990,"v":0.03},{"p":9050,"v":-0.025},{"p":9110,"v":0.04},{"p":9170,"v":-0.03},{"p":9230,"v":0.02},{"p":9290,"v":-0.04},{"p":9350,"v":0.02},
      {"p":10815,"v":-0.01},{"p":10885,"v":0.015},{"p":10955,"v":-0.015},{"p":11025,"v":0.01},{"p":11095,"v":-0.02},{"p":11165,"v":0.015},{"p":11235,"v":-0.01},{"p":11305,"v":0.02},{"p":11375,"v":-0.01},{"p":11445,"v":0.015},{"p":11515,"v":-0.015},{"p":11585,"v":0.01},{"p":11655,"v":-0.02},{"p":11725,"v":0.015},{"p":11795,"v":-0.01},{"p":11865,"v":0.02},{"p":11935,"v":-0.01},{"p":12005,"v":0.015},{"p":12075,"v":-0.015},{"p":12145,"v":0.01},{"p":12215,"v":-0.02},{"p":12285,"v":0.015},{"p":12355,"v":-0.01},{"p":12425,"v":0.02},{"p":12495,"v":-0.01},{"p":12565,"v":0.015},{"p":12635,"v":-0.015},{"p":12705,"v":0.01},{"p":12775,"v":-0.02},{"p":12845,"v":0.015},{"p":12915,"v":-0.01},{"p":12985,"v":0.02},{"p":13055,"v":-0.01},{"p":13125,"v":0.015},{"p":13200,"v":-0.015},
      {"p":13835,"v":-0.01},{"p":13905,"v":0.015},{"p":13975,"v":-0.015},{"p":14045,"v":0.01},{"p":14115,"v":-0.02},{"p":14185,"v":0.015},{"p":14255,"v":-0.01},{"p":14325,"v":0.02},{"p":14395,"v":-0.01},{"p":14465,"v":0.015},{"p":14535,"v":-0.015},{"p":14605,"v":0.01},{"p":14675,"v":-0.02},{"p":14745,"v":0.015},{"p":14815,"v":-0.01},{"p":14885,"v":0.02},{"p":14955,"v":-0.01},{"p":15025,"v":0.015},{"p":15095,"v":-0.015},{"p":15165,"v":0.01},{"p":15235,"v":-0.02},{"p":15305,"v":0.015},{"p":15375,"v":-0.01},{"p":15445,"v":0.02},{"p":15515,"v":-0.01},{"p":15585,"v":0.015},{"p":15655,"v":-0.015},{"p":15725,"v":0.01},{"p":15795,"v":-0.02},{"p":15865,"v":0.01},
      {"p":17350,"v":0.02},{"p":17410,"v":-0.03},{"p":17470,"v":0.025},{"p":17530,"v":-0.02},{"p":17590,"v":0.035},{"p":17650,"v":-0.025},{"p":17710,"v":0.015},{"p":17770,"v":-0.035},{"p":17830,"v":0.02},{"p":17890,"v":-0.03},{"p":17950,"v":0.025},{"p":18010,"v":-0.02},{"p":18070,"v":0.035},{"p":18130,"v":-0.025},{"p":18190,"v":0.015},{"p":18250,"v":-0.035},{"p":18310,"v":0.02},{"p":18370,"v":-0.03},{"p":18430,"v":0.025},{"p":18490,"v":-0.02},{"p":18550,"v":0.035},{"p":18610,"v":-0.025},{"p":18670,"v":0.015},{"p":18730,"v":-0.035},{"p":18790,"v":0.02},{"p":18850,"v":-0.03},{"p":18910,"v":0.025},{"p":18970,"v":-0.02},{"p":19030,"v":0.035},{"p":19090,"v":-0.025},{"p":19150,"v":0.015},{"p":19210,"v":-0.03},
      {"p":19770,"v":0.02},{"p":19830,"v":-0.03},{"p":19890,"v":0.025},{"p":19950,"v":-0.02},{"p":20010,"v":0.035},{"p":20070,"v":-0.025},{"p":20130,"v":0.015},{"p":20190,"v":-0.035},{"p":20250,"v":0.02},{"p":20310,"v":-0.03},{"p":20370,"v":0.025},{"p":20430,"v":-0.02},{"p":20490,"v":0.035},{"p":20550,"v":-0.025},{"p":20610,"v":0.015},{"p":20670,"v":-0.035},{"p":20730,"v":0.02},{"p":20790,"v":-0.03},{"p":20850,"v":0.025},{"p":20910,"v":-0.02},{"p":20970,"v":0.035},{"p":21030,"v":-0.025},{"p":21090,"v":0.015},{"p":21150,"v":-0.035},{"p":21210,"v":0.02},{"p":21270,"v":-0.03},{"p":21330,"v":0.025},{"p":21390,"v":-0.02},{"p":21450,"v":0.035},{"p":21510,"v":-0.025},{"p":21570,"v":0.015},{"p":21630,"v":-0.035},{"p":21690,"v":0.02},{"p":21750,"v":-0.03},{"p":21810,"v":0.025},{"p":21870,"v":-0.02},
      {"p":22950,"v":-0.03},{"p":23010,"v":0.035},{"p":23070,"v":-0.025},{"p":23130,"v":0.03},{"p":23190,"v":-0.035},{"p":23250,"v":0.04},{"p":23310,"v":-0.02},{"p":23370,"v":0.03},{"p":23430,"v":-0.03},{"p":23490,"v":0.035},{"p":23550,"v":-0.025},{"p":23610,"v":0.03},{"p":23670,"v":-0.035},{"p":23730,"v":0.04},{"p":23790,"v":-0.02},{"p":23850,"v":0.03},{"p":23910,"v":-0.03},{"p":23970,"v":0.035},{"p":24030,"v":-0.025},{"p":24090,"v":0.03},{"p":24150,"v":-0.035},{"p":24210,"v":0.04},{"p":24270,"v":-0.02},{"p":24330,"v":0.03},{"p":24390,"v":-0.03},{"p":24450,"v":0.035},{"p":24510,"v":-0.025},{"p":24570,"v":0.03},{"p":24630,"v":-0.035},{"p":24690,"v":0.04},{"p":24750,"v":-0.02},{"p":24810,"v":0.03},
      {"p":25050,"v":-0.03},{"p":25110,"v":0.035},{"p":25170,"v":-0.025},{"p":25230,"v":0.03},{"p":25290,"v":-0.035},{"p":25350,"v":0.04},{"p":25410,"v":-0.02},{"p":25470,"v":0.03},{"p":25530,"v":-0.03},{"p":25590,"v":0.035},{"p":25650,"v":-0.025},{"p":25710,"v":0.03},{"p":25770,"v":-0.035},{"p":25830,"v":0.04},{"p":25890,"v":-0.02},{"p":25950,"v":0.03},{"p":26010,"v":-0.03},{"p":26070,"v":0.035},{"p":26130,"v":-0.025},{"p":26190,"v":0.03},{"p":26250,"v":-0.035},{"p":26310,"v":0.04},{"p":26370,"v":-0.02},{"p":26430,"v":0.03},{"p":26490,"v":-0.03},{"p":26550,"v":0.035},{"p":26610,"v":-0.025},{"p":26670,"v":0.03},{"p":26730,"v":-0.035},{"p":26790,"v":0.04},{"p":26850,"v":-0.02},{"p":26910,"v":0.03},{"p":26970,"v":-0.03},{"p":27030,"v":0.035}
    ]
  },
  "hconcat": [
    {
      "width": 1708,
      "height": 877,
      "title": {"text": "(a) Horizontal accelerations fx", "orient": "bottom", "anchor": "middle", "frame": "bounds", "font": "Liberation Serif", "fontSize": 83, "fontWeight": "normal", "color": "black", "offset": 38},
      "layer": [
        {
          "data": {"name": "fx"},
          "mark": {"type": "line", "color": "#0000ff", "strokeWidth": 3.3, "strokeJoin": "round"},
          "encoding": {
            "x": {"field": "p", "type": "quantitative", "scale": {"domain": [0, 35000], "nice": false},
              "axis": {"orient": "bottom", "values": [0, 5000, 10000, 15000, 20000, 25000, 30000, 35000], "tickSize": 17, "labelPadding": 12, "labelFlush": false, "labelOverlap": false, "labelExpr": "datum.value >= 10000 ? format(datum.value, ',') : format(datum.value, 'd')", "title": "Point ID", "titlePadding": 40}},
            "y": {"field": "v", "type": "quantitative", "scale": {"domain": [-0.3, 1.3], "nice": false, "zero": false},
              "axis": {"orient": "left", "values": [-0.2, 0, 0.2, 0.4, 0.6, 0.8, 1.0, 1.2], "format": ".1f", "tickSize": 16, "labelPadding": 14, "title": "fx (mGal)", "titlePadding": 24}}
          }
        },
        {
          "data": {"name": "bands"},
          "mark": {"type": "rect", "opacity": 1},
          "encoding": {
            "x": {"field": "start", "type": "quantitative", "scale": {"domain": [0, 35000], "nice": false},
              "axis": {"orient": "bottom", "values": [2500, 7500, 12500, 17500, 22500, 27500, 32500], "tickSize": 8.5, "labels": false, "domain": false, "title": null}},
            "x2": {"field": "end"},
            "y": {"datum": -0.3, "type": "quantitative", "scale": {"domain": [-0.3, 1.3], "nice": false, "zero": false},
              "axis": {"orient": "left", "values": [-0.3, -0.1, 0.1, 0.3, 0.5, 0.7, 0.9, 1.1], "tickSize": 7.5, "labels": false, "domain": false, "title": "×10⁶", "titleAngle": 0, "titleAlign": "left", "titleBaseline": "alphabetic", "titleX": 3, "titleY": -15, "titleFontWeight": "normal", "titleFontSize": 43}},
            "y2": {"datum": 1.21},
            "color": {"field": "type", "type": "nominal",
              "scale": {"domain": ["Repeated Flight Lines", "Turning Area"], "range": ["rgba(0,255,255,0.22)", "rgba(192,192,192,0.5)"]},
              "legend": {"title": null, "orient": "none", "legendX": 1134, "legendY": -99, "direction": "vertical", "strokeColor": "black", "fillColor": "white", "padding": 25, "symbolType": "M-3.6,-1H3.6V1H-3.6Z", "symbolSize": 552, "symbolStrokeWidth": 0, "symbolOffset": 14, "labelFont": "Liberation Mono", "labelFontSize": 38, "labelColor": "black", "labelOffset": 58, "rowPadding": 4, "labelLimit": 1000}}
          }
        }
      ],
      "resolve": {"axis": {"x": "independent", "y": "independent"}}
    },
    {
      "width": 1722,
      "height": 883,
      "title": {"text": "(b) Horizontal accelerations fy", "orient": "bottom", "anchor": "middle", "frame": "bounds", "font": "Liberation Serif", "fontSize": 83, "fontWeight": "normal", "color": "black", "offset": 32},
      "layer": [
        {
          "data": {"name": "fy"},
          "mark": {"type": "line", "color": "#0000ff", "strokeWidth": 3.3, "strokeJoin": "round"},
          "encoding": {
            "x": {"field": "p", "type": "quantitative", "scale": {"domain": [0, 35000], "nice": false},
              "axis": {"orient": "bottom", "values": [0, 5000, 10000, 15000, 20000, 25000, 30000, 35000], "tickSize": 17, "labelPadding": 12, "labelFlush": false, "labelOverlap": false, "labelExpr": "datum.value >= 10000 ? format(datum.value, ',') : format(datum.value, 'd')", "title": "Point ID", "titlePadding": 40}},
            "y": {"field": "v", "type": "quantitative", "scale": {"domain": [-0.2, 1.3], "nice": false, "zero": false},
              "axis": {"orient": "left", "values": [-0.2, 0, 0.2, 0.4, 0.6, 0.8, 1.0, 1.2], "format": ".1f", "tickSize": 16, "labelPadding": 14, "title": "fy (mGal)", "titlePadding": 24}}
          }
        },
        {
          "data": {"name": "bands"},
          "mark": {"type": "rect", "opacity": 1},
          "encoding": {
            "x": {"field": "start", "type": "quantitative", "scale": {"domain": [0, 35000], "nice": false},
              "axis": {"orient": "bottom", "values": [2500, 7500, 12500, 17500, 22500, 27500, 32500], "tickSize": 8.5, "labels": false, "domain": false, "title": null}},
            "x2": {"field": "end"},
            "y": {"datum": -0.2, "type": "quantitative", "scale": {"domain": [-0.2, 1.3], "nice": false, "zero": false},
              "axis": {"orient": "left", "values": [-0.1, 0.1, 0.3, 0.5, 0.7, 0.9, 1.1], "tickSize": 7.5, "labels": false, "domain": false, "title": "×10⁶", "titleAngle": 0, "titleAlign": "left", "titleBaseline": "alphabetic", "titleX": 3, "titleY": -15, "titleFontWeight": "normal", "titleFontSize": 43}},
            "y2": {"datum": 1.213},
            "color": {"field": "type", "type": "nominal",
              "scale": {"domain": ["Repeated Flight Lines", "Turning Area"], "range": ["rgba(0,255,255,0.22)", "rgba(192,192,192,0.5)"]},
              "legend": {"title": null, "orient": "none", "legendX": 1151, "legendY": -99, "direction": "vertical", "strokeColor": "black", "fillColor": "white", "padding": 25, "symbolType": "M-3.6,-1H3.6V1H-3.6Z", "symbolSize": 552, "symbolStrokeWidth": 0, "symbolOffset": 14, "labelFont": "Liberation Mono", "labelFontSize": 38, "labelColor": "black", "labelOffset": 58, "rowPadding": 4, "labelLimit": 1000}}
          }
        }
      ],
      "resolve": {"axis": {"x": "independent", "y": "independent"}}
    }
  ],
  "spacing": 30,
  "resolve": {"scale": {"color": "independent", "x": "independent", "y": "independent"}, "legend": {"color": "independent"}},
  "config": {
    "view": {"stroke": null},
    "axis": {"grid": false, "domainColor": "black", "domainWidth": 2.8, "tickColor": "black", "tickWidth": 2.8, "labelFont": "Liberation Serif", "labelFontWeight": "bold", "labelFontSize": 49, "labelColor": "black", "titleFont": "Liberation Serif", "titleFontWeight": "bold", "titleFontSize": 53, "titleColor": "black"}
  }
}
